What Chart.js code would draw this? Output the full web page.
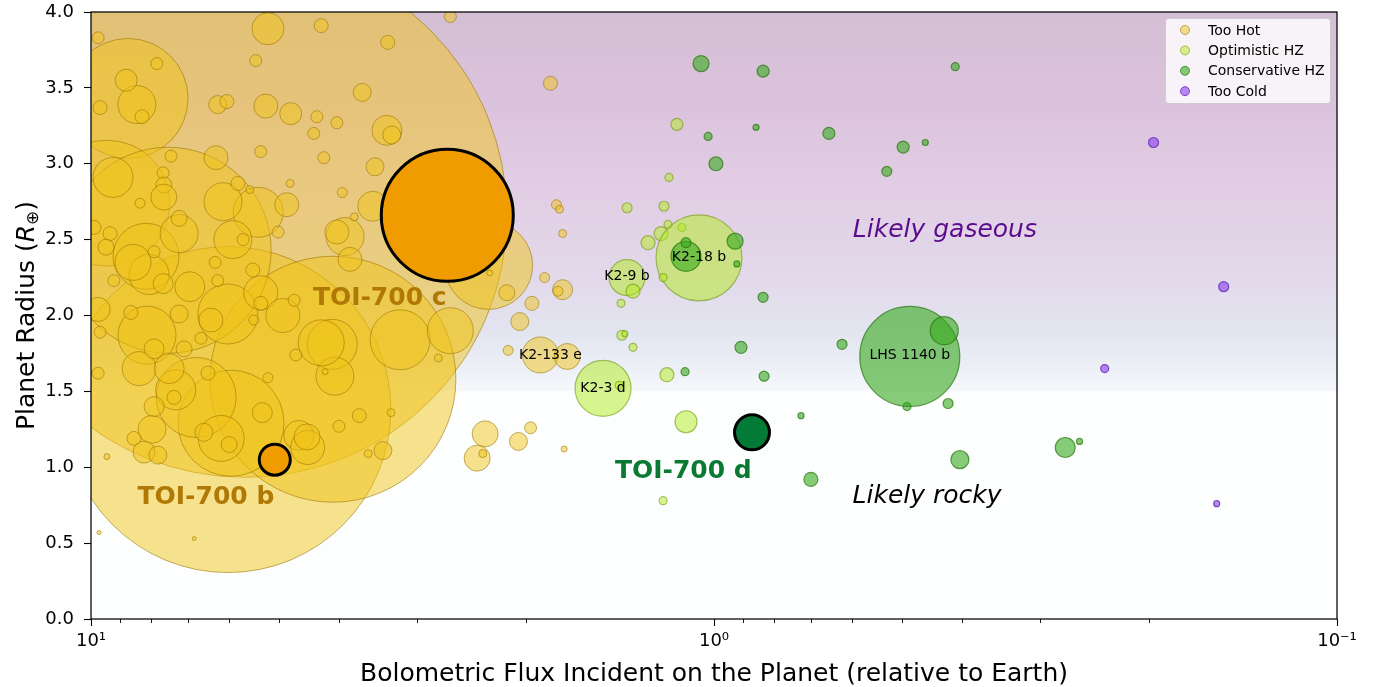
<!DOCTYPE html>
<html>
<head>
<meta charset="utf-8">
<script src="https://cdn.jsdelivr.net/npm/chart.js@4.4.1/dist/chart.umd.min.js"></script>
<style>
  html, body { margin: 0; padding: 0; background: #fff; }
  #wrap { width: 1375px; height: 687px; }
</style>
</head>
<body>
<div id="wrap"><canvas id="chart"></canvas></div>
<script>
// ---- data (flux relative to Earth, radius in Earth radii, bubble r) ----
const hotFlux = [
  5.66, 6.03, 4.09, 8.72, 9.43, 7.52, 2.30, 5.96, 6.78, 8.13,
  8.16, 6.03, 3.19, 2.65, 4.10, 4.06, 5.39, 6.14, 3.91, 3.53,
  8.07, 8.56, 7.22, 5.92, 5.34, 4.92, 6.94, 6.18, 7.31, 4.27,
  8.37, 7.49, 4.64, 4.49, 7.98, 9.22, 8.44, 5.20, 3.35, 1.90,
  1.72, 8.78, 9.67, 9.74, 7.84, 8.28, 6.26, 6.05, 5.24, 4.78,
  3.67, 4.34, 4.03, 4.39, 3.29, 5.34, 4.23, 6.30, 7.44, 3.50,
  4.79, 3.95, 4.85, 5.81, 5.56, 7.66, 7.64, 7.64, 8.34, 4.03,
  3.84, 5.01, 3.78, 4.27, 2.65, 3.34, 5.44, 1.83, 2.15, 1.96,
  1.87, 2.05, 2.14, 1.75, 1.78, 1.79, 1.77, 1.75, 7.22, 9.32,
  9.46, 9.89, 7.92, 7.66, 9.19, 5.70, 6.32, 5.50, 6.26, 6.42,
  7.22, 8.63, 9.67, 9.74, 5.34, 4.72, 5.48, 6.66, 7.09, 7.92,
  4.69, 9.74, 6.49, 7.36, 7.92, 5.20, 5.31, 6.00, 6.59, 8.53,
  8.22, 7.81, 9.43, 9.71, 6.83, 3.71, 4.00, 3.30, 3.40, 3.59,
  2.33, 2.40, 2.35, 2.06, 1.97, 1.74, 2.77, 2.29, 4.21, 4.50
];
const hotRadius = [
  2.66, 1.38, 1.58, 3.43, 2.74, 2.43, 2.33, 1.29, 1.46, 1.87,
  2.39, 2.01, 1.84, 1.90, 1.81, 1.60, 2.68, 2.75, 2.52, 2.72,
  2.27, 2.35, 2.54, 2.50, 2.15, 2.00, 2.19, 1.19, 1.51, 1.82,
  1.65, 1.65, 1.21, 1.13, 1.25, 2.91, 3.39, 3.89, 3.22, 1.74,
  1.73, 3.55, 3.37, 3.83, 3.66, 3.31, 3.39, 3.41, 3.38, 3.33,
  3.47, 3.31, 3.27, 3.20, 3.19, 3.08, 3.04, 3.04, 3.05, 2.98,
  2.87, 2.81, 2.73, 2.87, 2.83, 2.94, 2.86, 2.78, 2.74, 2.55,
  2.37, 2.55, 2.65, 3.91, 3.97, 3.80, 3.68, 3.53, 2.15, 2.08,
  2.25, 1.96, 1.77, 2.17, 2.16, 2.73, 2.70, 2.54, 2.64, 2.54,
  2.45, 2.58, 2.42, 2.21, 2.23, 2.50, 2.35, 2.30, 2.23, 1.97,
  2.01, 2.02, 1.89, 2.04, 2.08, 2.10, 1.97, 1.85, 1.78, 1.78,
  1.74, 1.62, 1.62, 1.46, 1.40, 1.59, 1.36, 1.15, 1.23, 1.19,
  1.10, 1.08, 1.07, 0.57, 0.53, 1.34, 1.27, 1.36, 1.11, 1.09,
  1.22, 1.06, 1.09, 1.17, 1.26, 1.12, 1.72, 2.28, 1.63, 1.20
];
const hotR = [
  262, 163, 123, 60, 63, 103, 44, 53, 40, 29,
  33, 30, 30, 23, 25, 19, 25, 19, 19, 15,
  20, 18, 19, 19, 17, 17, 15, 23, 20, 23,
  17, 15, 15, 17, 14, 20, 19, 16, 15, 18,
  13, 11, 7, 6, 6, 7, 9, 7, 12, 11,
  9, 6, 6, 6, 9, 6, 6, 12, 6, 9,
  4, 5, 12, 7, 4, 6, 8, 13, 5, 12,
  12, 6, 4, 7, 6, 7, 6, 7, 8, 7,
  5, 9, 5, 10, 5, 5, 4, 4, 8, 7,
  8, 7, 6, 10, 6, 6, 6, 7, 6, 12,
  9, 7, 6, 12, 7, 6, 5, 6, 8, 10,
  6, 6, 7, 7, 10, 5, 10, 8, 9, 7,
  11, 9, 3, 2, 2, 7, 6, 4, 9, 4,
  13, 13, 4, 9, 6, 3, 4, 3, 3, 13
];

const optFlux   = [1.379, 1.203, 1.276, 1.216, 1.185, 1.126, 1.057, 1.207, 1.379, 1.349, 1.410, 1.406, 1.390, 1.349, 1.190, 1.507, 1.420, 1.109, 1.147, 1.181, 1.207];
const optRadius = [2.71, 2.72, 2.48, 2.54, 2.60, 2.58, 2.38, 2.25, 2.25, 2.16, 2.08, 1.87, 1.88, 1.79, 1.61, 1.52, 1.54, 1.30, 3.26, 2.91, 0.78];
const optR      = [5, 5, 7, 7, 4, 4, 43, 4, 18, 7, 4, 5, 3, 4, 7, 28, 4, 11, 6, 4, 4];

const consFlux   = [1.049, 0.834, 1.022, 0.856, 0.993, 0.654, 0.497, 0.458, 0.528, 0.410, 0.925, 0.919, 0.834, 0.905, 0.831, 1.113, 0.623, 0.725, 0.699, 0.421, 0.490, 0.485, 0.427, 0.403, 0.273, 0.259, 1.109, 1.109];
const consRadius = [3.66, 3.61, 3.18, 3.24, 3.00, 3.20, 3.11, 3.14, 2.95, 3.64, 2.49, 2.34, 2.12, 1.79, 1.60, 1.63, 1.81, 1.34, 0.92, 1.42, 1.40, 1.73, 1.90, 1.05, 1.13, 1.17, 2.39, 2.48];
const consR      = [8, 6, 4, 3, 7, 6, 6, 3, 5, 4, 8, 3, 5, 6, 5, 4, 5, 3, 7, 5, 4, 50, 14, 9, 10, 3, 15, 5];

const coldFlux   = [0.197, 0.152, 0.236, 0.156];
const coldRadius = [3.14, 2.19, 1.65, 0.76];
const coldR      = [5, 5, 4, 3];

const toiNames  = ['TOI-700 b', 'TOI-700 c', 'TOI-700 d'];
const toiFlux   = [5.07, 2.68, 0.869];
const toiRadius = [1.05, 2.66, 1.23];
const toiR      = [15.5, 66, 17.5];

const labelText   = ['K2-18 b', 'K2-9 b', 'K2-133 e', 'K2-3 d', 'LHS 1140 b'];
const labelFlux   = [1.057, 1.379, 1.83, 1.507, 0.485];
const labelRadius = [2.38, 2.26, 1.74, 1.52, 1.74];

const toiLabelFlux   = [6.54, 3.44, 1.12];
const toiLabelRadius = [0.80, 2.11, 0.975];

const regionText   = ['Likely gaseous', 'Likely rocky'];
const regionFlux   = [0.426, 0.455];
const regionRadius = [2.56, 0.81];
const rockyLimit = 1.5;

const xTickValues = [10, 1, 0.1];
const xTickLabels = ['10\u00B9', '10\u2070', '10\u207B\u00B9'];
const xMinorTicks = [9, 8, 7, 6, 5, 4, 3, 2, 0.9, 0.8, 0.7, 0.6, 0.5, 0.4, 0.3, 0.2];
const yTickValues = [0, 0.5, 1, 1.5, 2, 2.5, 3, 3.5, 4];

const categories = ['Too Hot', 'Optimistic HZ', 'Conservative HZ', 'Too Cold'];

// ---- styles ----
const FONT = '"DejaVu Sans", sans-serif';
const fills   = ['rgba(240,196,25,0.5)', 'rgba(178,235,30,0.5)', 'rgba(55,170,30,0.6)', 'rgba(140,60,235,0.6)'];
const borders = ['rgba(150,112,0,0.55)', 'rgba(105,145,0,0.55)', 'rgba(35,115,10,0.7)', 'rgba(100,40,190,0.8)'];
const toiFill = ['#f09c00', '#f09c00', '#037a35'];
const toiLabelColor = ['#b07804', '#b07804', '#0a7a32'];
const regionColor = ['#5b0b8d', '#000000'];

function bubbles(fx, ry, rr) {
  return fx.map((x, i) => ({ x: x, y: ry[i], r: rr[i] }));
}

const decor = {
  id: 'decor',
  beforeDatasetsDraw(chart) {
    const { ctx, chartArea: a, scales: { y } } = chart;
    const yTop = y.getPixelForValue(4);
    const yEdge = y.getPixelForValue(rockyLimit);
    ctx.save();
    ctx.fillStyle = '#fdfefe';
    ctx.fillRect(a.left, a.top, a.width, a.height);
    const g = ctx.createLinearGradient(0, yTop, 0, yEdge);
    g.addColorStop(0, '#d3bfd4');
    g.addColorStop(0.25, '#dcc3dd');
    g.addColorStop(0.5, '#e2cfe5');
    g.addColorStop(0.7, '#e2d9ea');
    g.addColorStop(0.85, '#e3e5f0');
    g.addColorStop(0.95, '#eef1f7');
    g.addColorStop(1, '#f6f8fb');
    ctx.fillStyle = g;
    ctx.fillRect(a.left, yTop, a.width, yEdge - yTop);
    ctx.restore();
  },
  afterDatasetsDraw(chart) {
    const { ctx, chartArea: a, scales: { x, y } } = chart;
    ctx.save();
    ctx.textAlign = 'center';
    ctx.textBaseline = 'middle';

    // planet name labels
    ctx.fillStyle = '#000';
    ctx.font = '14px ' + FONT;
    labelText.forEach((t, i) => {
      ctx.fillText(t, x.getPixelForValue(labelFlux[i]), y.getPixelForValue(labelRadius[i]));
    });

    ctx.font = 'bold 25px ' + FONT;
    toiNames.forEach((t, i) => {
      ctx.fillStyle = toiLabelColor[i];
      ctx.fillText(t, x.getPixelForValue(toiLabelFlux[i]), y.getPixelForValue(toiLabelRadius[i]));
    });

    ctx.font = 'italic 25px ' + FONT;
    regionText.forEach((t, i) => {
      ctx.fillStyle = regionColor[i];
      ctx.fillText(t, x.getPixelForValue(regionFlux[i]), y.getPixelForValue(regionRadius[i]));
    });

    // frame
    ctx.strokeStyle = '#000';
    ctx.lineWidth = 1.25;
    ctx.strokeRect(a.left, a.top, a.width, a.height);

    // minor ticks
    ctx.lineWidth = 0.9;
    xMinorTicks.forEach(v => {
      const px = Math.round(x.getPixelForValue(v)) + 0.5;
      ctx.beginPath();
      ctx.moveTo(px, a.bottom);
      ctx.lineTo(px, a.bottom + 4);
      ctx.stroke();
    });

    // legend
    const lx = 1165, ly = 18, lw = 165, lh = 85;
    ctx.fillStyle = 'rgba(255,255,255,0.8)';
    ctx.strokeStyle = '#cccccc';
    ctx.lineWidth = 1;
    ctx.beginPath();
    ctx.roundRect(lx + 0.5, ly + 0.5, lw, lh, 3);
    ctx.fill();
    ctx.stroke();
    ctx.textAlign = 'left';
    ctx.font = '14px ' + FONT;
    categories.forEach((c, i) => {
      const cy = ly + 12 + i * 20.4;
      ctx.beginPath();
      ctx.arc(lx + 20, cy, 4.5, 0, Math.PI * 2);
      ctx.fillStyle = fills[i];
      ctx.fill();
      ctx.strokeStyle = borders[i];
      ctx.stroke();
      ctx.fillStyle = '#000';
      ctx.fillText(c, lx + 43, cy + 1);
    });

    // axis titles
    ctx.fillStyle = '#000';
    ctx.textAlign = 'center';
    ctx.textBaseline = 'alphabetic';
    ctx.font = '25px ' + FONT;
    ctx.fillText('Bolometric Flux Incident on the Planet (relative to Earth)', (a.left + a.right) / 2, 681);

    const parts = [
      ['Planet Radius (', '25px ' + FONT, 0],
      ['R', 'italic 25px ' + FONT, 0],
      ['\u2295', '17px ' + FONT, 4],
      [')', '25px ' + FONT, 0]
    ];
    let total = 0;
    parts.forEach(p => { ctx.font = p[1]; total += ctx.measureText(p[0]).width; });
    ctx.translate(34, (a.top + a.bottom) / 2);
    ctx.rotate(-Math.PI / 2);
    ctx.textAlign = 'left';
    let cx = -total / 2;
    parts.forEach(p => {
      ctx.font = p[1];
      ctx.fillText(p[0], cx, p[2]);
      cx += ctx.measureText(p[0]).width;
    });
    ctx.restore();
  }
};

Chart.defaults.font.family = FONT;

new Chart(document.getElementById('chart'), {
  type: 'bubble',
  data: {
    datasets: [
      { label: categories[0], data: bubbles(hotFlux, hotRadius, hotR), backgroundColor: fills[0], borderColor: borders[0], borderWidth: 1, order: 4, clip: 0 },
      { label: categories[1], data: bubbles(optFlux, optRadius, optR), backgroundColor: fills[1], borderColor: borders[1], borderWidth: 1.2, order: 3, clip: 0 },
      { label: categories[2], data: bubbles(consFlux, consRadius, consR), backgroundColor: fills[2], borderColor: borders[2], borderWidth: 1.2, order: 2, clip: 0 },
      { label: categories[3], data: bubbles(coldFlux, coldRadius, coldR), backgroundColor: fills[3], borderColor: borders[3], borderWidth: 1.2, order: 1, clip: 0 },
      { label: 'TOI-700', data: bubbles(toiFlux, toiRadius, toiR), backgroundColor: toiFill, borderColor: '#000', borderWidth: 3, order: 0, clip: 0 }
    ]
  },
  options: {
    responsive: true,
    maintainAspectRatio: false,
    animation: false,
    devicePixelRatio: 1,
    events: [],
    layout: { autoPadding: false, padding: { top: 12, right: 38, left: 0, bottom: 0 } },
    plugins: { legend: { display: false }, tooltip: { enabled: false } },
    scales: {
      x: {
        type: 'logarithmic',
        reverse: true,
        min: 0.1,
        max: 10,
        afterFit: s => { s.height = 68; s.paddingLeft = 0; s.paddingRight = 0; },
        afterBuildTicks: s => { s.ticks = xTickValues.map(v => ({ value: v, major: true })); },
        ticks: {
          autoSkip: false, maxRotation: 0, color: '#000', padding: 5,
          font: { size: 18 },
          callback: (v, i) => xTickLabels[i]
        },
        grid: { drawOnChartArea: false, drawTicks: true, tickLength: 7, color: '#000', tickWidth: 1.1 },
        border: { display: false }
      },
      y: {
        min: 0,
        max: 4,
        afterFit: s => { s.width = 91; s.paddingTop = 0; s.paddingBottom = 0; },
        afterBuildTicks: s => { s.ticks = yTickValues.map(v => ({ value: v })); },
        ticks: {
          color: '#000', padding: 10,
          font: { size: 18 },
          callback: v => Number(v).toFixed(1)
        },
        grid: { drawOnChartArea: false, drawTicks: true, tickLength: 7, color: '#000', tickWidth: 1.1 },
        border: { display: false }
      }
    }
  },
  plugins: [decor]
});
</script>
</body>
</html>
